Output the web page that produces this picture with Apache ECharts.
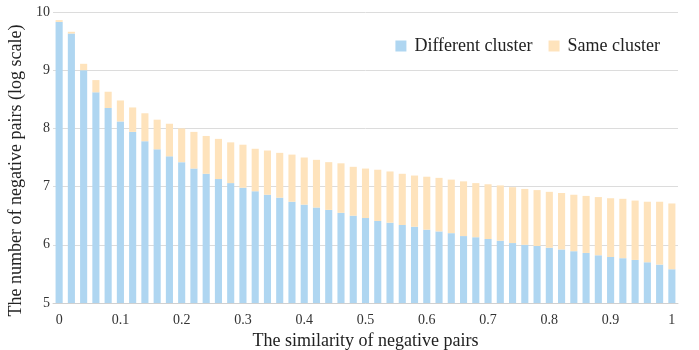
<!DOCTYPE html>
<html>
<head>
<meta charset="utf-8">
<script src="https://cdn.jsdelivr.net/npm/echarts@6/dist/echarts.min.js"></script>
<style>
  html, body { margin: 0; padding: 0; background: #fff; }
  #main { width: 699px; height: 350px; }
</style>
</head>
<body>
<div id="main"></div>
<script>
// similarity bins 0 .. 1 step 0.02
const categories = [
  '0', '0.02', '0.04', '0.06', '0.08', '0.1', '0.12', '0.14', '0.16', '0.18',
  '0.2', '0.22', '0.24', '0.26', '0.28', '0.3', '0.32', '0.34', '0.36', '0.38',
  '0.4', '0.42', '0.44', '0.46', '0.48', '0.5', '0.52', '0.54', '0.56', '0.58',
  '0.6', '0.62', '0.64', '0.66', '0.68', '0.7', '0.72', '0.74', '0.76', '0.78',
  '0.8', '0.82', '0.84', '0.86', '0.88', '0.9', '0.92', '0.94', '0.96', '0.98', '1'
]

// log count, different cluster (blue)
const diffCluster = [
  9.83, 9.63, 9.00, 8.62, 8.35, 8.12, 7.94, 7.78, 7.64, 7.52,
  7.42, 7.31, 7.22, 7.13, 7.06, 6.98, 6.92, 6.86, 6.81, 6.74,
  6.69, 6.64, 6.60, 6.55, 6.50, 6.46, 6.41, 6.38, 6.34, 6.31,
  6.26, 6.23, 6.20, 6.15, 6.13, 6.10, 6.07, 6.03, 6.00, 5.98,
  5.95, 5.92, 5.89, 5.86, 5.82, 5.79, 5.77, 5.74, 5.70, 5.66, 5.58
]

// total height of the stacked bar (log scale)
const totalHeight = [
  9.86, 9.66, 9.11, 8.83, 8.63, 8.48, 8.36, 8.26, 8.15, 8.08,
  8.00, 7.94, 7.87, 7.82, 7.76, 7.72, 7.65, 7.62, 7.58, 7.55,
  7.50, 7.46, 7.42, 7.40, 7.34, 7.31, 7.29, 7.26, 7.22, 7.19,
  7.17, 7.15, 7.12, 7.09, 7.06, 7.04, 7.02, 6.99, 6.96, 6.94,
  6.91, 6.89, 6.86, 6.84, 6.82, 6.80, 6.79, 6.76, 6.74, 6.74, 6.71
]

const sameCluster = totalHeight.map((t, i) => +(t - diffCluster[i]).toFixed(3))

const yTicks = [5, 6, 7, 8, 9, 10]

const serif = '"Liberation Serif", "DejaVu Serif", serif'

let myChart = echarts.init(document.getElementById('main'))
myChart.setOption({
  animation: false,
  textStyle: { fontFamily: serif },
  legend: {
    right: 34,
    top: 32,
    icon: 'rect',
    itemWidth: 11,
    itemHeight: 11,
    itemGap: 16,
    textStyle: { fontFamily: serif, fontSize: 18, color: '#222', padding: [0, 0, 0, 3] },
    data: ['Different cluster', 'Same cluster']
  },
  grid: { left: 53, right: 21, top: 12, bottom: 47, outerBoundsMode: 'none', containLabel: false },
  xAxis: {
    type: 'category',
    data: categories,
    name: 'The similarity of negative pairs',
    nameLocation: 'middle',
    nameGap: 28,
    nameTextStyle: { fontFamily: serif, fontSize: 18, color: '#222' },
    axisTick: { show: false },
    axisLine: { lineStyle: { color: '#d0d0d0' } },
    axisLabel: {
      interval: 4,
      fontFamily: serif,
      fontSize: 14,
      color: '#333',
      margin: 10
    }
  },
  yAxis: {
    type: 'value',
    min: yTicks[0],
    max: yTicks[yTicks.length - 1],
    interval: 1,
    name: 'The number of negative pairs (log scale)',
    nameLocation: 'middle',
    nameGap: 20,
    nameTextStyle: { fontFamily: serif, fontSize: 18, color: '#222', padding: [0, 26, 0, 0] },
    axisLine: { show: false },
    axisTick: { show: false },
    splitLine: { lineStyle: { color: '#dcdcdc' } },
    axisLabel: { fontFamily: serif, fontSize: 14, color: '#333', margin: 3 }
  },
  series: [
    {
      name: 'Different cluster',
      type: 'bar',
      stack: 'same',
      barWidth: '58%',
      itemStyle: { color: '#afd6f1' },
      data: diffCluster
    },
    {
      name: 'Same cluster',
      type: 'bar',
      stack: 'same',
      barWidth: '58%',
      itemStyle: { color: '#fee3bc' },
      data: sameCluster
    }
  ]
})
window.addEventListener('resize', () => { myChart.resize() })
</script>
</body>
</html>
